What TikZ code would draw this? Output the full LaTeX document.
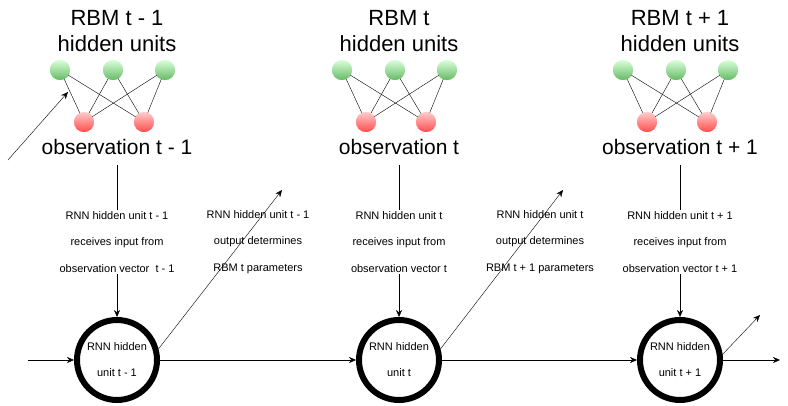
\documentclass[tikz,border=0pt]{standalone}
\usepackage{fontspec}
\setmainfont{Liberation Sans}
\usetikzlibrary{arrows.meta}

\tikzset{
  hid/.style={circle, minimum size=20pt, inner sep=0pt, top color=green!15, bottom color=green!55!black!60},
  vis/.style={circle, minimum size=20pt, inner sep=0pt, top color=red!20, bottom color=red!70},
  big/.style={font=\fontsize{22}{26}\selectfont, align=center},
  obs/.style={font=\fontsize{21}{24}\selectfont},
  small/.style={font=\fontsize{11}{26.5}\selectfont, align=center, inner sep=1pt},
  rnn/.style={circle, draw, line width=6pt, minimum size=80pt, align=center, font=\fontsize{11}{26}\selectfont, inner sep=0pt},
  arr/.style={-{Stealth[length=7pt,width=6pt]}}
}

\begin{document}
\begin{tikzpicture}[x=1pt,y=-1pt]
  \useasboundingbox (0,0) rectangle (788,406);
  % three time steps
  \foreach \i/\x/\lab in {0/117/t - 1, 1/399/t, 2/680/t + 1}{
    \node[big] (title\i) at (\x,31) {RBM \lab\\hidden units};
    \node[hid] (ha\i) at (\x-57,70) {};
    \node[hid] (hb\i) at (\x-4,70) {};
    \node[hid] (hc\i) at (\x+48,70) {};
    \node[vis] (va\i) at (\x-33,122) {};
    \node[vis] (vb\i) at (\x+27,122) {};
    \foreach \h in {ha,hb,hc}
      \foreach \v in {va,vb}
        \draw (\h\i.center) -- (\v\i.center);
    \foreach \h in {ha,hb,hc}
      \node[hid] at (\h\i) {};
    \foreach \v in {va,vb}
      \node[vis] at (\v\i) {};
    \node[obs] (obs\i) at (\x,147) {observation \lab};
    \node[rnn] (rnn\i) at (\x,360) {RNN hidden\\unit \lab};
    \coordinate (top\i) at (\x,165);
    \draw[arr] (top\i) -- (rnn\i.north);
    \node[small, fill=white] (in\i) at (\x,242) {RNN hidden unit \lab\\receives input from\\observation vector \ifnum\i=0\ \fi\lab};
  }
  % recurrent links
  \coordinate (start) at (28,360);
  \coordinate (end) at (780,360);
  \draw[arr] (start) -- (rnn0.west);
  \draw[arr] (rnn0.east) -- (rnn1.west);
  \draw[arr] (rnn1.east) -- (rnn2.west);
  \draw[arr] (rnn2.east) -- (end);
  % rnn output to next rbm
  \coordinate (p0) at (282,190);
  \coordinate (p1) at (563,190);
  \coordinate (q0) at (8,160);
  \coordinate (q1) at (68,92);
  \coordinate (r0) at (722,355);
  \coordinate (r1) at (760,315);
  \draw[arr] (q0) -- (q1);
  \draw[arr] (rnn0.15) -- (p0);
  \draw[arr] (rnn1.15) -- (p1);
  \draw[arr] (r0) -- (r1);
  \node[small] (out0) at (258,242) {RNN hidden unit t - 1\\output determines\\RBM t parameters};
  \node[small] (out1) at (540,242) {RNN hidden unit t\\output determines\\RBM t + 1 parameters};
\end{tikzpicture}
\end{document}
